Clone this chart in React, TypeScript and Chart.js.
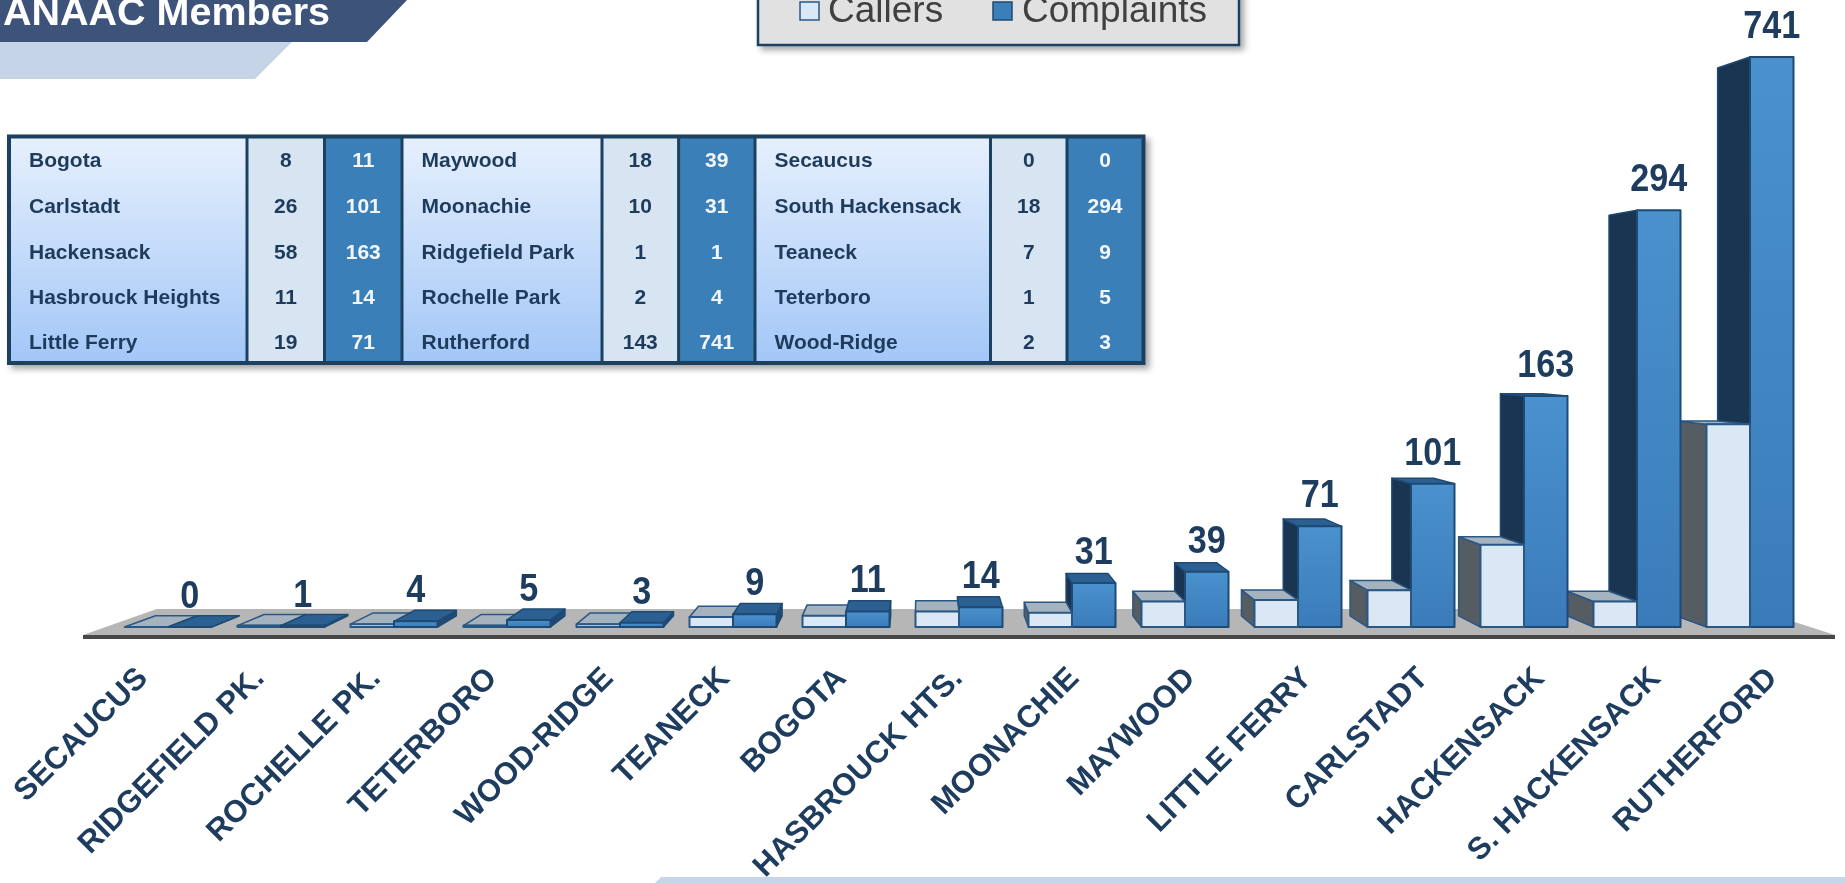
import React, { useEffect, useRef } from "react";
import { Chart, registerables } from "chart.js";
Chart.register(...registerables);

// ---------- data ----------
const categories = [
  "SECAUCUS", "RIDGEFIELD PK.", "ROCHELLE PK.", "TETERBORO", "WOOD-RIDGE",
  "TEANECK", "BOGOTA", "HASBROUCK HTS.", "MOONACHIE", "MAYWOOD",
  "LITTLE FERRY", "CARLSTADT", "HACKENSACK", "S. HACKENSACK", "RUTHERFORD",
];
const callers = [0, 1, 2, 1, 2, 7, 8, 11, 10, 18, 19, 26, 58, 18, 143];
const complaints = [0, 1, 4, 5, 3, 9, 11, 14, 31, 39, 71, 101, 163, 294, 741];
const seriesNames = ["Callers", "Complaints"];
const yAxisMax = 402;

const titleText = "ANAAC Members";
const tableTowns = [
  ["Bogota", "Carlstadt", "Hackensack", "Hasbrouck Heights", "Little Ferry"],
  ["Maywood", "Moonachie", "Ridgefield Park", "Rochelle Park", "Rutherford"],
  ["Secaucus", "South Hackensack", "Teaneck", "Teterboro", "Wood-Ridge"],
];
const tableCallers = [
  [8, 26, 58, 11, 19],
  [18, 10, 1, 2, 143],
  [0, 18, 7, 1, 2],
];
const tableComplaints = [
  [11, 101, 163, 14, 71],
  [39, 31, 1, 4, 741],
  [0, 294, 9, 5, 3],
];

// ---------- 3D look ----------
const VP = { x: 920, y: 340 };
const DEPTH = 0.039;
const FLOOR_DEPTH = 0.088;
const LABEL_SPREAD = 1.03;
const FONT = '"Liberation Sans", Arial, sans-serif';
const NAVY = "#1D3C5E";

type P = { x: number; y: number };
const back = (p: P, k = DEPTH): P => ({ x: p.x + k * (VP.x - p.x), y: p.y + k * (VP.y - p.y) });

function poly(ctx: CanvasRenderingContext2D, pts: P[], fill: string | CanvasGradient, stroke?: string, lw = 1.5) {
  ctx.beginPath();
  ctx.moveTo(pts[0].x, pts[0].y);
  for (let i = 1; i < pts.length; i++) ctx.lineTo(pts[i].x, pts[i].y);
  ctx.closePath();
  ctx.fillStyle = fill;
  ctx.fill();
  if (stroke) {
    ctx.strokeStyle = stroke;
    ctx.lineWidth = lw;
    ctx.lineJoin = "round";
    ctx.stroke();
  }
}

const palette = [
  { front: ["#DAE7F4", "#DAE7F4"], top: "#A5B3BF", sideL: "#565D62", sideR: "#8A97A1", edge: "#2A5783" },
  { front: ["#4A91CE", "#3A7CB9"], top: "#2C6093", sideL: "#1A3552", sideR: "#1F4A77", edge: "#1E4A73" },
];

function drawBox(ctx: CanvasRenderingContext2D, x0: number, x1: number, yTop: number, yBase: number, c: any) {
  const FLT = { x: x0, y: yTop }, FRT = { x: x1, y: yTop };
  const FLB = { x: x0, y: yBase }, FRB = { x: x1, y: yBase };
  if (x0 > VP.x) poly(ctx, [FLT, back(FLT), back(FLB), FLB], c.sideL, c.edge);
  if (x1 < VP.x) poly(ctx, [FRT, back(FRT), back(FRB), FRB], c.sideR, c.edge);
  if (yTop > VP.y) poly(ctx, [FLT, FRT, back(FRT), back(FLT)], c.top, c.edge);
  const h = yBase - yTop;
  if (h > 0.8) {
    const g = ctx.createLinearGradient(0, yTop, 0, yBase);
    g.addColorStop(0, c.front[0]);
    g.addColorStop(1, c.front[1]);
    ctx.fillStyle = g;
    ctx.fillRect(x0, yTop, x1 - x0, h);
    ctx.strokeStyle = c.edge;
    ctx.lineWidth = 2;
    ctx.strokeRect(x0, yTop, x1 - x0, h);
  } else {
    ctx.beginPath();
    ctx.moveTo(x0, yBase);
    ctx.lineTo(x1, yBase);
    ctx.strokeStyle = c.edge;
    ctx.lineWidth = 2;
    ctx.stroke();
  }
}

const floorPlugin = {
  id: "floor3d",
  beforeDatasetsDraw(chart: any) {
    const { ctx, chartArea } = chart;
    const fy = chartArea.bottom + 8;
    const fl = { x: chartArea.left - 28.5, y: fy };
    const fr = { x: chartArea.right + 28.5, y: fy };
    ctx.save();
    poly(ctx, [fl, fr, back(fr, FLOOR_DEPTH), back(fl, FLOOR_DEPTH)], "#B6B6B6");
    ctx.fillStyle = "#474747";
    ctx.fillRect(fl.x, fy, fr.x - fl.x, 4);
    ctx.restore();
  },
};

const boxesPlugin = {
  id: "boxes3d",
  afterDatasetsDraw(chart: any) {
    const { ctx, chartArea } = chart;
    const boxes: any[] = [];
    chart.data.datasets.forEach((ds: any, di: number) => {
      const meta = chart.getDatasetMeta(di);
      meta.data.forEach((el: any) => {
        const { x, y, base, width } = el.getProps(["x", "y", "base", "width"], true);
        boxes.push({ x0: x - width / 2, x1: x + width / 2, top: Math.max(y, chartArea.top), base, c: palette[di] });
      });
    });
    boxes.sort((a, b) => Math.abs((b.x0 + b.x1) / 2 - VP.x) - Math.abs((a.x0 + a.x1) / 2 - VP.x));
    ctx.save();
    for (const b of boxes) drawBox(ctx, b.x0, b.x1, b.top, b.base, b.c);

    // value labels above complaint bars
    const meta = chart.getDatasetMeta(1);
    ctx.fillStyle = NAVY;
    ctx.textAlign = "center";
    ctx.textBaseline = "alphabetic";
    ctx.font = `bold 38px ${FONT}`;
    meta.data.forEach((el: any, i: number) => {
      const top = Math.max(el.y, chartArea.top);
      ctx.save();
      ctx.translate(el.x, top - 19);
      ctx.scale(0.9, 1);
      ctx.fillText(String(complaints[i]), 0, 0);
      ctx.restore();
    });

    // category labels, rotated 45°
    const xs = chart.scales.x;
    const fs = 31;
    ctx.font = `bold ${fs}px ${FONT}`;
    ctx.textAlign = "right";
    const capH = fs * 0.716;
    categories.forEach((lab, i) => {
      const cx = VP.x + (xs.getPixelForValue(i) - VP.x) * LABEL_SPREAD - 12;
      ctx.save();
      ctx.translate(cx + capH * 0.7071, chartArea.bottom + 37 + capH * 0.7071);
      ctx.rotate(-Math.PI / 4);
      ctx.fillText(lab, 0, 0);
      ctx.restore();
    });
    ctx.restore();
  },
};

// ---------- overlay pieces ----------
const colSeps = [247, 324.5, 402, 602, 678.6, 755, 990.5, 1067];
const rowBase = [167, 213, 258.5, 304, 349];

function Table() {
  const L = 7, T = 134.5, R = 1145.5, B = 365, bw = 4;
  const edges = [L + bw, ...colSeps, R - bw];
  const cols: any[] = [];
  for (let i = 0; i < edges.length - 1; i++) {
    const a = i === 0 ? edges[i] : edges[i] + 1.5;
    const b = i === edges.length - 2 ? edges[i + 1] : edges[i + 1] - 1.5;
    const kind = i % 3;
    const fill = kind === 0 ? "url(#nameGrad)" : kind === 1 ? "#D6E5F1" : "#3B7FB9";
    cols.push({ a, b, kind, group: Math.floor(i / 3), fill });
  }
  return (
    <g>
      <rect x={L} y={T} width={R - L} height={B - T} fill="#1E3F5E" filter="url(#shadow)" />
      {cols.map((c, i) => (
        <rect key={i} x={c.a} y={T + bw} width={c.b - c.a} height={B - T - 2 * bw} fill={c.fill} />
      ))}
      {cols.map((c, i) => {
        const g = c.group;
        return rowBase.map((yb, r) => {
          if (c.kind === 0)
            return (
              <text key={`${i}-${r}`} x={c.a + 18} y={yb} fontFamily={FONT} fontWeight="bold" fontSize={21} fill="#1F3B5C">
                {tableTowns[g][r]}
              </text>
            );
          const val = c.kind === 1 ? tableCallers[g][r] : tableComplaints[g][r];
          return (
            <text key={`${i}-${r}`} x={(c.a + c.b) / 2} y={yb} textAnchor="middle" fontFamily={FONT} fontWeight="bold" fontSize={21}
              fill={c.kind === 1 ? "#1F3B5C" : "#F2F6FA"}>
              {val}
            </text>
          );
        });
      })}
    </g>
  );
}

function Overlay() {
  return (
    <svg width={1845} height={883} style={{ position: "absolute", left: 0, top: 0, pointerEvents: "none" }}>
      <defs>
        <linearGradient id="nameGrad" x1="0" y1="0" x2="0" y2="1">
          <stop offset="0" stopColor="#E6F0FD" />
          <stop offset="1" stopColor="#A3C7F7" />
        </linearGradient>
        <filter id="shadow" x="-5%" y="-10%" width="115%" height="130%">
          <feDropShadow dx="4" dy="4" stdDeviation="3" floodColor="#000" floodOpacity="0.35" />
        </filter>
      </defs>
      {/* title bands */}
      <polygon points="0,42 292,42 255,79 0,79" fill="#C6D4E7" />
      <polygon points="0,0 407,0 367,42 0,42" fill="#3E5379" />
      <text x={3} y={25} fontFamily={FONT} fontWeight="bold" fontSize={39.5} fill="#FFFFFF">{titleText}</text>
      {/* legend */}
      <rect x={758} y={-10} width={481} height={55} fill="#E1E1E1" stroke="#1F3F5F" strokeWidth={2.5} filter="url(#shadow)" />
      <rect x={800} y={2} width={19} height={18} fill="#DAE7F4" stroke="#2A5783" strokeWidth={1.5} />
      <text x={828} y={22} fontFamily={FONT} fontSize={37} fill="#404040">{seriesNames[0]}</text>
      <rect x={993} y={2} width={19} height={18} fill="#3B7FB9" stroke="#1E4A73" strokeWidth={1.5} />
      <text x={1022} y={22} fontFamily={FONT} fontSize={37} fill="#404040">{seriesNames[1]}</text>
      <Table />
      {/* bottom band */}
      <polygon points="661,877 1845,877 1845,883 655,883" fill="#C7D5E8" />
    </svg>
  );
}

export default function App() {
  const ref = useRef<HTMLCanvasElement>(null);
  useEffect(() => {
    const chart = new Chart(ref.current!, {
      type: "bar",
      data: {
        labels: categories,
        datasets: [
          { label: seriesNames[0], data: callers, backgroundColor: "rgba(0,0,0,0)", borderWidth: 0 },
          { label: seriesNames[1], data: complaints, backgroundColor: "rgba(0,0,0,0)", borderWidth: 0 },
        ],
      },
      plugins: [floorPlugin, boxesPlugin],
      options: {
        responsive: false,
        animation: false,
        devicePixelRatio: 1,
        categoryPercentage: 0.77,
        barPercentage: 1,
        layout: { padding: { left: 111.5, right: 38.5, top: 57, bottom: 256 } },
        scales: {
          x: { display: false },
          y: { display: false, min: 0, max: yAxisMax },
        },
        plugins: { legend: { display: false }, tooltip: { enabled: false } },
      } as any,
    });
    return () => chart.destroy();
  }, []);
  return (
    <div style={{ position: "absolute", left: 0, top: 0, width: 1845, height: 883, overflow: "hidden", background: "#fff" }}>
      <canvas ref={ref} width={1845} height={883} style={{ position: "absolute", left: 0, top: 0, width: 1845, height: 883 }} />
      <Overlay />
    </div>
  );
}
